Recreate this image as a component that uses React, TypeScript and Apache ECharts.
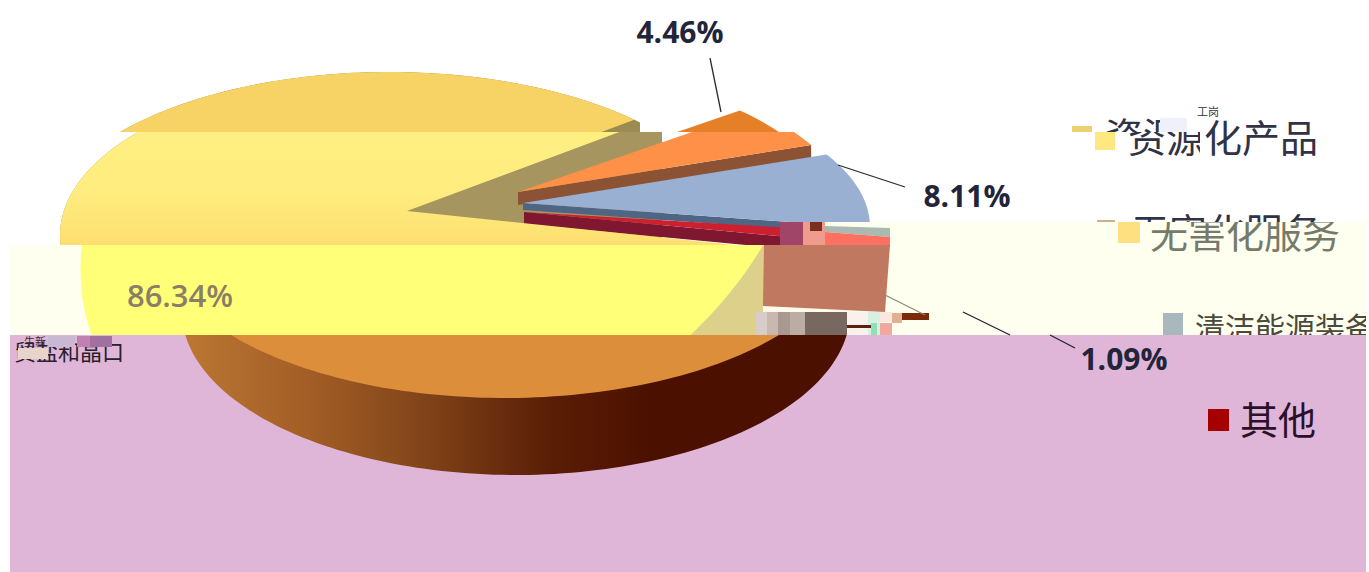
import React, { useEffect, useRef } from "react";
import * as echarts from "echarts";

const categories = ["无害化服务", "清洁能源装备", "其他", "资源化产品"];
const shares = [4.46, 8.11, 1.09, 86.34];

const W = 1369;
const H = 572;
const START_ANGLE = 45;
const CJK = '"Noto Sans CJK SC"';
const NUM = '"Open Sans"';

type Pt = [number, number];
type Ell = { cx: number; cy: number; a: number; b: number; skew?: number };

const ptOn = (e: Ell, deg: number): Pt => {
  const r = (deg * Math.PI) / 180;
  const y = e.cy - e.b * Math.sin(r);
  return [e.cx + e.a * Math.cos(r) + (e.skew || 0) * (y - e.cy), y];
};
const arc = (e: Ell, from: number, to: number): Pt[] => {
  const n = Math.max(2, Math.ceil(Math.abs(to - from) / 1.5));
  const out: Pt[] = [];
  for (let i = 0; i <= n; i++) out.push(ptOn(e, from + ((to - from) * i) / n));
  return out;
};
const clipRect = (x: number, y: number, width: number, height: number) => ({
  type: "rect",
  shape: { x, y, width, height },
});
const poly = (points: Pt[], fill: any, z2: number) => ({
  type: "polygon",
  z2,
  silent: true,
  shape: { points },
  style: { fill, stroke: null },
});
const txt = (text: string, x: number, y: number, size: number, fill: string, family: string, weight: any, z2: number, align = "left", clip?: any) => ({
  type: "text",
  z2,
  silent: true,
  clipPath: clip,
  style: { text, x, y, fill, fontSize: size, fontFamily: family, fontWeight: weight, textAlign: align, textVerticalAlign: "middle", align, verticalAlign: "middle" },
});
const line = (x1: number, y1: number, x2: number, y2: number, stroke: string, z2: number) => ({
  type: "line",
  z2,
  silent: true,
  shape: { x1, y1, x2, y2 },
  style: { stroke, lineWidth: 1.3 },
});

const EXPLODED: any = {
  "无害化服务": {
    tip: [518, 192], cyOff: 28, a: 335, b: 155, thick: 13, bands: [
      { y0: 0, y1: 132, dx: -15, fill: "#E58029", wall: "#8B5233" },
      { y0: 132, y1: 245, dx: 0, fill: "#FF9048", wall: "#8B5233" },
    ],
    label: [680, 31], leader: [710, 58, 721, 112],
  },
  "清洁能源装备": {
    tip: [523, 203], cyOff: 24, a: 347, b: 150, thick: 7, bands: [
      { y0: 132, y1: 245, dx: 0, fill: "#9AB0D2", wall: "#4F6584" },
    ],
    label: [967, 195], leader: [838, 165, 905, 187],
  },
  "其他": {
    tip: [524, 212], cyOff: 20, a: 347, b: 175, thick: 12, bands: [
      { y0: 132, y1: 245, dx: 0, fill: "#CC1F30", wall: "#7F1730" },
    ],
    label: [1124, 358], leader: null,
  },
};

const renderMain = (value: number, start: number, end: number) => {
  const to = end;
  const from = start - 360;
  const tipDy = 24;
  const surface = (e: Ell, fill: any, z2: number) => {
    const tip: Pt = [e.cx, e.cy - tipDy];
    return poly([tip, ...arc(e, to, from)], fill, z2);
  };
  const wedge = (e: Ell, fill: string) => {
    const tip: Pt = [e.cx, e.cy - tipDy];
    return poly([tip, ...arc(e, from + 360, to)], fill, 0);
  };
  const e1: Ell = { cx: 389, cy: 235, a: 347, b: 163 };
  const e2: Ell = { cx: 407, cy: 235, a: 347, b: 163 };
  const e3: Ell = { cx: 441.75, cy: 190, a: 347, b: 287, skew: -0.35 };
  const e3w: Ell = { ...e3, cx: 516.75 };
  const e4: Ell = { cx: 505, cy: 235, a: 347, b: 163 };
  const e4w: Ell = { cx: 516, cy: 312, a: 334, b: 163 };
  const grad2 = new echarts.graphic.LinearGradient(0, 132, 0, 245, [
    { offset: 0, color: "#FFEF82" },
    { offset: 0.55, color: "#FFEC7E" },
    { offset: 1, color: "#FDDF70" },
  ], true);
  const gradWall = new echarts.graphic.LinearGradient(183, 0, 850, 0, [
    { offset: 0, color: "#BC7733" },
    { offset: 0.2, color: "#A05C25" },
    { offset: 0.35, color: "#83461A" },
    { offset: 0.55, color: "#5A1E06" },
    { offset: 0.7, color: "#4C1000" },
    { offset: 1, color: "#4C1000" },
  ], true);
  return [
    { type: "group", clipPath: clipRect(0, 0, 640, 132), children: [wedge(e1, "#9B8B50")] },
    { type: "group", clipPath: clipRect(0, 132, 662, 113), children: [wedge(e2, "#A6955F")] },
    { type: "group", clipPath: clipRect(0, 0, W, 132), children: [surface(e1, "#F7D365", 5)] },
    { type: "group", clipPath: clipRect(0, 132, W, 113), children: [surface(e2, grad2, 5)] },
    {
      type: "group", clipPath: clipRect(0, 245, W, 90), children: [
        surface(e3w, "#DDD08A", 4),
        surface(e3, "#FFFF78", 5),
      ],
    },
    {
      type: "group", clipPath: clipRect(0, 335, W, 237), children: [
        surface(e4w, gradWall, 4),
        surface(e4, "#DD8E3A", 5),
      ],
    },
    txt(`${value.toFixed(2)}%`, 180, 295, 31, "#8A7F66", NUM, 600, 6, "center"),
  ];
};

const renderItem = (params: any, api: any) => {
  const i = params.dataIndex;
  const value = api.value(1);
  const before = shares.slice(0, i).reduce((s, v) => s + v, 0);
  const start = START_ANGLE - (before / 100) * 360;
  const end = start - (value / 100) * 360;
  const name = categories[i];
  if (name === "资源化产品") {
    return { type: "group", children: renderMain(value, start + 360, end + 360 - 360) };
  }
  const s = EXPLODED[name];
  const children: any[] = [];
  s.bands.forEach((bd: any) => {
    const e: Ell = { cx: s.tip[0] + bd.dx, cy: s.tip[1] + s.cyOff, a: s.a, b: s.b };
    const tip: Pt = [e.cx, s.tip[1]];
    const pts = arc(e, start, end);
    const last = pts[pts.length - 1];
    const z = 1 + i;
    children.push({
      type: "group",
      clipPath: clipRect(0, bd.y0, W, bd.y1 - bd.y0),
      children: [
        poly([tip, last, [last[0], last[1] + s.thick], [tip[0], tip[1] + s.thick]], bd.wall, z),
        poly([tip, ...pts], bd.fill, z),
      ],
    });
  });
  if (s.leader) children.push(line(s.leader[0], s.leader[1], s.leader[2], s.leader[3], "#2A2A35", 7));
  children.push(txt(`${value.toFixed(2)}%`, s.label[0], s.label[1], 30, "#22243A", NUM, 700, 20, "center"));
  return { type: "group", children };
};

const LEGEND: any[] = [
  { text: categories[3], x: 1105, y: 133, size: 38, fill: "#2F3345", clip: [1100, 100, 60, 32], sq: [1072, 126, 20, 6, "#EFD070"] },
  { text: categories[3], x: 1128, y: 135, size: 38, fill: "#2F3345", clip: [1128, 132, 72, 40], sq: [1095, 132, 20, 18, "#FFE880"] },
  { text: categories[3].slice(2), x: 1204, y: 135, size: 38, fill: "#2F3345", clip: [1200, 100, 130, 70] },
  { text: categories[0], x: 1131, y: 229, size: 38, fill: "#2F3345", clip: [1125, 200, 210, 22], sq: [1097, 220, 18, 2, "#C9B48A"] },
  { text: categories[0], x: 1150, y: 231, size: 38, fill: "#757B6A", clip: [1145, 222, 200, 40], sq: [1118, 222, 22, 21, "#FFE080"] },
  { text: categories[1], x: 1195, y: 326, size: 30, fill: "#4A4A3A", clip: [1190, 305, 176, 30], sq: [1163, 313, 20, 22, "#A8B8BC"] },
  { text: categories[2], x: 1240, y: 417, size: 38, fill: "#2A1028", clip: [1235, 390, 90, 50], sq: [1208, 409, 21, 22, "#A50000"] },
];
const legendRender = (params: any) => {
  const l = LEGEND[params.dataIndex];
  const children: any[] = [
    txt(l.text, l.x, l.y, l.size, l.fill, CJK, 400, 30, "left", clipRect(l.clip[0], l.clip[1], l.clip[2], l.clip[3])),
  ];
  if (l.sq) children.push({ type: "rect", z2: 30, silent: true, shape: { x: l.sq[0], y: l.sq[1], width: l.sq[2], height: l.sq[3] }, style: { fill: l.sq[4] } });
  return { type: "group", children };
};

const GLITCH: any[] = [
  [780, 222, 23, 23, "#A04468"], [803, 222, 22, 23, "#F09C8C"], [810, 222, 12, 9, "#7A3020"],
  [756, 312, 11, 23, "#D8CCC8"], [767, 312, 11, 23, "#C8B8B0"], [778, 312, 12, 23, "#A89890"], [790, 312, 15, 23, "#BCACA4"],
  [805, 312, 42, 23, "#786860"], [847, 312, 21, 23, "#FAF0EC"], [868, 312, 12, 23, "#D8F0E0"], [880, 312, 12, 10, "#F8E8E0"],
  [871, 323, 6, 12, "#90E0B8"], [880, 323, 12, 12, "#F0A8A0"],
  [892, 313, 10, 10, "#E0B090"], [902, 313, 27, 7, "#7A2A0A"], [847, 325, 24, 3, "#5A2010"],
  [48, 336, 27, 11, "#C8B8D4"], [77, 336, 13, 11, "#C080B0"], [90, 336, 22, 11, "#A070A0"], [18, 348, 30, 11, "#E8D4C8"],
  [1160, 118, 27, 14, "#F0F0FA"],
];

export default function App() {
  const ref = useRef<HTMLDivElement>(null);
  useEffect(() => {
    const chart = echarts.init(ref.current!, null, { renderer: "svg" });
    const rect = (x: number, y: number, w: number, h: number, fill: string, z: number) => ({
      type: "rect", z, silent: true, shape: { x, y, width: w, height: h }, style: { fill },
    });
    const pg = (points: number[][], fill: string, z: number) => ({
      type: "polygon", z, silent: true, shape: { points }, style: { fill },
    });
    const ln = (x1: number, y1: number, x2: number, y2: number, stroke: string, z: number) => ({
      type: "line", z, silent: true, shape: { x1, y1, x2, y2 }, style: { stroke, lineWidth: 1.3 },
    });
    chart.setOption({
      animation: false,
      backgroundColor: "#FFFFFF",
      graphic: {
        elements: [
          rect(10, 245, 1356, 90, "#FFFFF0", 0),
          rect(10, 335, 1356, 237, "#E0B6D8", 0),
          rect(780, 222, 586, 23, "#FFFFF0", 5),
          pg([[825, 226], [890, 228], [890, 237], [825, 232]], "#A9BAB2", 6),
          pg([[825, 232], [890, 237], [890, 245], [825, 245]], "#FF7060", 6),
          pg([[764, 245], [890, 245], [885, 312], [763, 306]], "#C07860", 6),
          rect(763, 306, 122, 6, "#FFFAEA", 5),
          { type: "text", z: 6, silent: true, style: { text: "贸盐和晶口", x: 14, y: 339, fontSize: 22, fontFamily: CJK, fill: "#2A2028" } },
          { type: "text", z: 6, silent: true, style: { text: "生新", x: 24, y: 336, fontSize: 11, fontFamily: CJK, fill: "#3A2A30" } },
          ...GLITCH.map((g) => rect(g[0], g[1], g[2], g[3], g[4], 7)),
          ln(885, 295, 925, 315, "#8A8A80", 8),
          ln(963, 312, 1010, 335, "#222230", 8),
          ln(1050, 335, 1075, 348, "#222230", 8),
          { type: "text", z: 9, silent: true, style: { text: "工岗", x: 1197, y: 106, fontSize: 11, fontFamily: CJK, fill: "#333" } },
        ],
      },
      series: [
        {
          type: "custom", coordinateSystem: "none", silent: true, z: 2, clip: false,
          data: categories.map((c, i) => ({ name: c, value: [i, shares[i]] })),
          renderItem,
        },
        {
          type: "custom", coordinateSystem: "none", silent: true, z: 12, clip: false,
          data: LEGEND.map((_, i) => [i]),
          renderItem: legendRender,
        },
      ],
    });
    return () => chart.dispose();
  }, []);
  return <div ref={ref} style={{ position: "fixed", left: 0, top: 0, width: W, height: H }} />;
}
